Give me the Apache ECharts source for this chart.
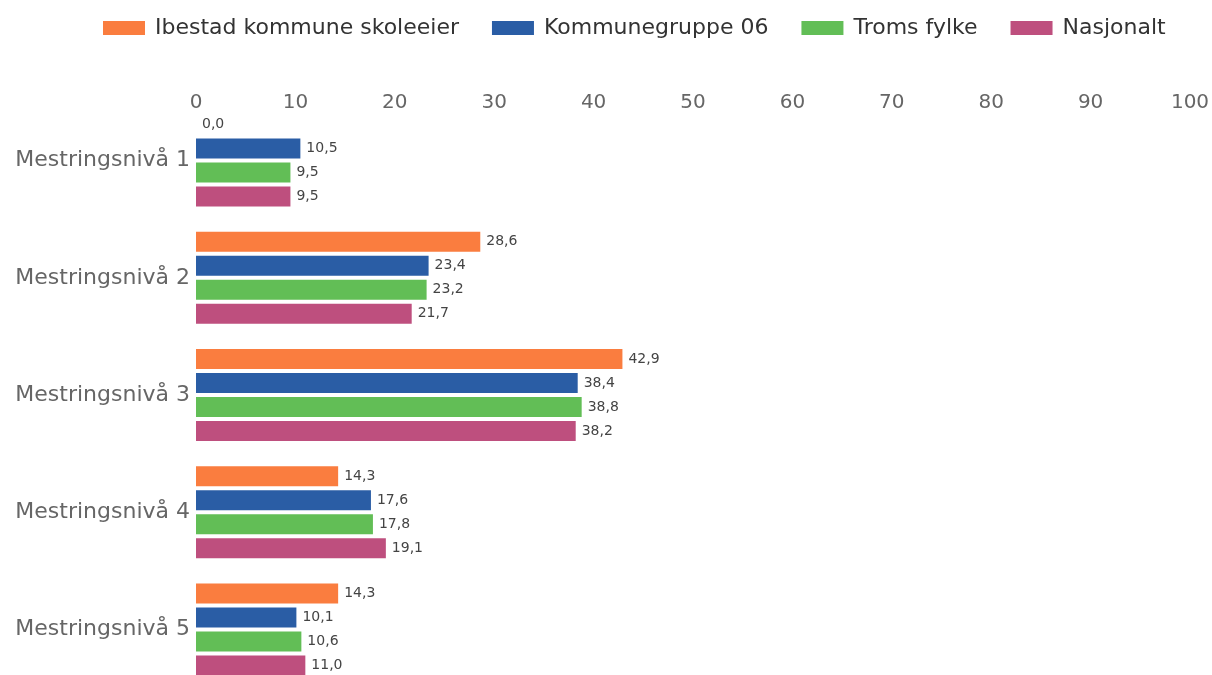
<!DOCTYPE html>
<html><head><meta charset="utf-8">
<script src="https://cdn.jsdelivr.net/npm/echarts@6/dist/echarts.min.js"></script>
<style>html,body{margin:0;padding:0;background:#fff}#c{width:1212px;height:675px}</style>
</head><body><div id="c"></div>
<script>
var categories = ['Mestringsnivå 1','Mestringsnivå 2','Mestringsnivå 3','Mestringsnivå 4','Mestringsnivå 5'];
var seriesNames = ['Ibestad kommune skoleeier','Kommunegruppe 06','Troms fylke','Nasjonalt'];
var ibestad = [0.0, 28.6, 42.9, 14.3, 14.3];
var kommunegruppe = [10.5, 23.4, 38.4, 17.6, 10.1];
var troms = [9.5, 23.2, 38.8, 17.8, 10.6];
var nasjonalt = [9.5, 21.7, 38.2, 19.1, 11.0];
var xTicks = [0,10,20,30,40,50,60,70,80,90,100];
var colors = ['#FA7D3F','#2A5DA5','#62BE56','#BE4F7E'];
var data = [ibestad, kommunegruppe, troms, nasjonalt];
var FF = '"DejaVu Sans", Verdana, sans-serif';

var chart = echarts.init(document.getElementById('c'));
chart.setOption({
  animation:false,
  color: colors,
  legend:{
    top:12, left:98, itemWidth:42, itemHeight:14, itemGap:33,
    icon:'rect',
    textStyle:{fontSize:22, color:'#333', fontFamily:FF, padding:[0,0,0,5]},
    data: seriesNames
  },
  grid:{left:196, right:22, top:102, height:586, containLabel:false, outerBoundsMode:'none'},
  xAxis:{
    type:'value', position:'top', min:xTicks[0], max:xTicks[xTicks.length-1], interval:10,
    axisLine:{show:false}, axisTick:{show:false}, splitLine:{show:false},
    axisLabel:{margin:-11, fontSize:20, color:'#666', fontFamily:FF}
  },
  yAxis:{
    type:'category', inverse:true, data:categories,
    axisLine:{show:false}, axisTick:{show:false},
    axisLabel:{margin:6, fontSize:22, color:'#666', fontFamily:FF}
  },
  series: seriesNames.map(function(n,i){
    return {
      name:n, type:'bar', data:data[i], barWidth:20, barGap:'20%',
      label:{show:true, position:'right', distance:6, fontSize:14, color:'#444', fontFamily:FF,
        formatter:function(p){return p.value.toFixed(1).replace('.',',');}}
    };
  })
});
</script></body></html>
